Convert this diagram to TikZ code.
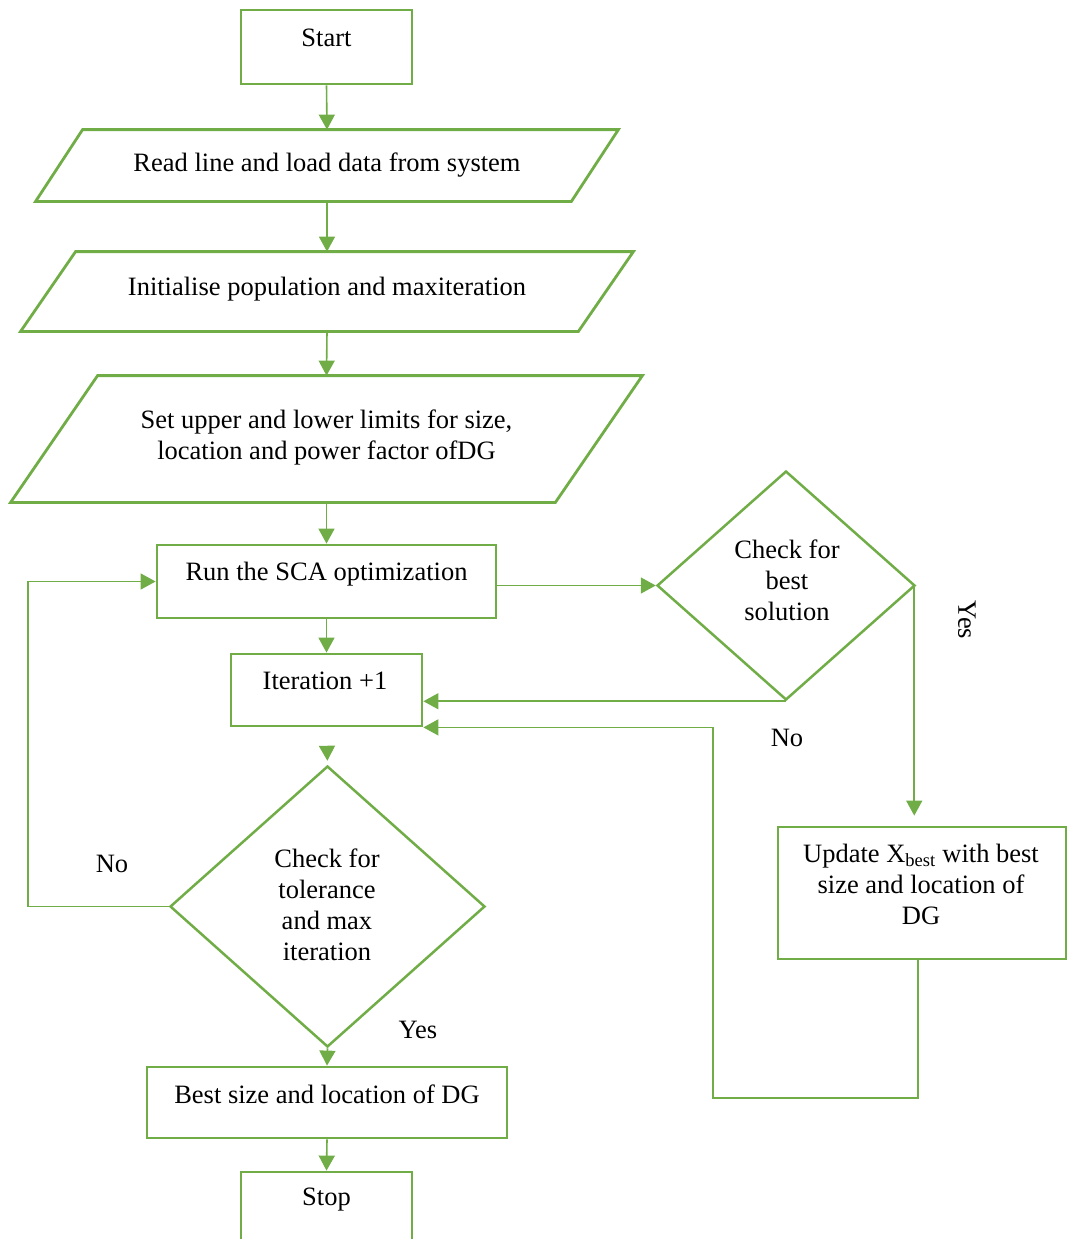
\documentclass[tikz,border=0pt]{standalone}
\usepackage{fontspec}
\setmainfont{Liberation Serif}
\usetikzlibrary{shapes.geometric,arrows.meta}
\definecolor{flowgreen}{HTML}{70AD47}
\tikzset{
  box/.style={draw=flowgreen, line width=2.8pt, inner sep=0pt},
  io/.style={inner sep=0pt, outer sep=1.4pt},
  dec/.style={draw=flowgreen, line width=2.5pt, diamond, inner sep=0pt},
  txt/.style={font=\fontsize{26.5}{31}\selectfont, align=center, inner sep=0pt},
  flow/.style={draw=flowgreen, line width=1.6pt, -{Triangle[length=15pt,width=16pt]}},
}
\begin{document}
\begin{tikzpicture}[x=1pt,y=-1pt]
    \useasboundingbox (0,0) rectangle (1073,1239);
    \clip (0,0) rectangle (1073,1239);
    % boxes
    \node[box, minimum width=171pt, minimum height=74pt] (start) at (326.5,47) {};
    \node[io, minimum width=580pt, minimum height=69pt] (read) at (327,165.5) {};
    \draw[box] ([xshift=47pt]read.north west) -- (read.north east) -- ([xshift=-47pt]read.south east) -- (read.south west) -- cycle;
    \node[io, minimum width=610pt, minimum height=77pt] (init) at (327,291.5) {};
    \draw[box] ([xshift=55pt]init.north west) -- (init.north east) -- ([xshift=-55pt]init.south east) -- (init.south west) -- cycle;
    \node[io, minimum width=629pt, minimum height=124pt] (limits) at (326.5,439) {};
    \draw[box] ([xshift=87pt]limits.north west) -- (limits.north east) -- ([xshift=-87pt]limits.south east) -- (limits.south west) -- cycle;
    \node[box, minimum width=339pt, minimum height=73pt] (run) at (326.5,581.5) {};
    \node[box, minimum width=191pt, minimum height=72pt] (iter) at (326.5,690) {};
    \node[dec, minimum width=258pt, minimum height=229pt] (chkbest) at (786,585.5) {};
    \node[box, minimum width=288pt, minimum height=132pt] (upd) at (922,893) {};
    \node[dec, minimum width=315pt, minimum height=281pt] (chktol) at (327.5,906.5) {};
    \node[box, minimum width=360pt, minimum height=71pt] (best) at (327,1102.5) {};
    \node[box, minimum width=171pt, minimum height=74pt] (stop) at (326.5,1209) {};
    % texts
    \node[txt] (tstart) at (326.5,38) {Start};
    \node[txt] (tread) at (327,165) {Read line and load data from system};
    \node[txt] (tinit) at (327,289) {Initialise population and maxiteration};
    \node[txt] (tlimits) at (326.5,437.5) {Set upper and lower limits for size,\\location and power factor ofDG};
    \node[txt] (trun) at (326.5,574) {Run the SCA optimization};
    \node[txt] (titer) at (325,681) {Iteration +1};
    \node[txt] (tchkbest) at (787,580.5) {Check for\\best\\solution};
    \node[txt] (tupd) at (921,884.5) {Update X\textsubscript{best} with best\\size and location of\\DG};
    \node[txt] (tchktol) at (327,904.5) {Check for\\tolerance\\and max\\iteration};
    \node[txt] (tbest) at (327,1094) {Best size and location of DG};
    \node[txt] (tstop) at (326.5,1200) {Stop};
    \node[txt] (nobest) at (787,738) {No};
    \node[txt, rotate=-90] (yesbest) at (967,620) {Yes};
    \node[txt] (notol) at (112,864) {No};
    \node[txt] (yestol) at (418,1030) {Yes};
    % connectors
    \draw[flow] (start.south) -- (read.north);
    \draw[flow] (read.south) -- (init.north);
    \draw[flow] (init.south) -- (limits.north);
    \draw[flow] (limits.south) -- (run.north);
    \draw[flow] (run.east |- chkbest.west) -- (chkbest.west);
    \draw[flow] (run.south) -- (iter.north);
    \draw[flow] (chkbest.south) -- (chkbest.south -| iter.east);
    \draw[flow, shorten >=10pt] ([xshift=-2pt]chkbest.east) -- ([xshift=-2pt]chkbest.east |- upd.north);
    \coordinate (back) at (713,1098);
    \draw[flow] ([xshift=-4pt]upd.south) |- (back) |- (iter.south east);
    \draw[flow, shorten <=19pt, shorten >=4pt] (iter.south) -- (chktol.north);
    \draw[flow] (chktol.west) -- ++(-141pt,0) |- (run.west);
    \draw[flow] (chktol.south) -- (best.north);
    \draw[flow] (best.south) -- (stop.north);
  \end{tikzpicture}
\end{document}
